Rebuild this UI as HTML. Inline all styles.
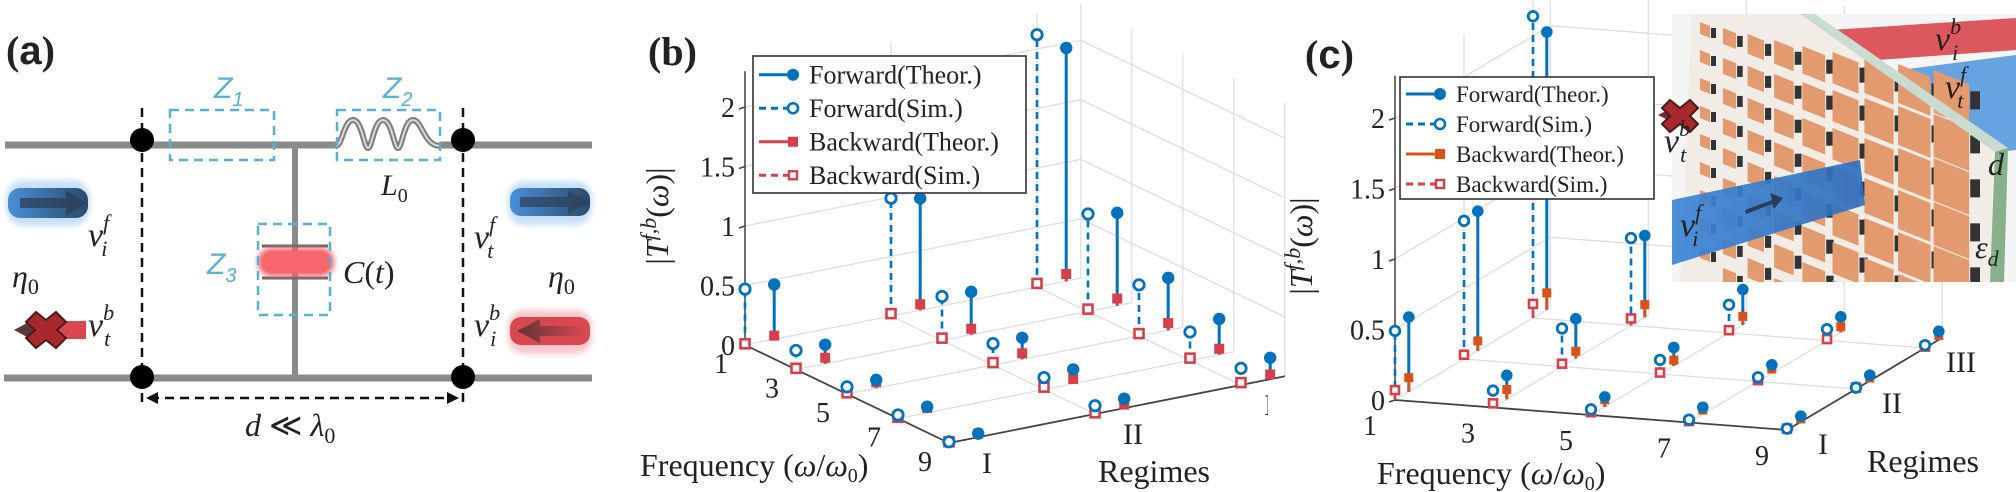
<!DOCTYPE html>
<html><head><meta charset="utf-8"><style>
html,body{margin:0;padding:0;background:#fff}
svg{display:block}
text{font-family:"Liberation Serif",serif;fill:#222}
.it{font-style:italic}
.zl{fill:#5ab0d0;font-style:italic;font-family:"Liberation Sans",sans-serif}
</style></head><body>
<svg id="fig" width="2016" height="492" viewBox="0 0 2016 492" xmlns="http://www.w3.org/2000/svg">
<defs>
<linearGradient id="ga" x1="0" x2="1"><stop offset="0" stop-color="#4a90d9"/><stop offset="1" stop-color="#2c4a6b"/></linearGradient>
<linearGradient id="gr" x1="1" x2="0"><stop offset="0" stop-color="#d9484f"/><stop offset="1" stop-color="#4a2f33"/></linearGradient>
<linearGradient id="gbeam" x1="0" x2="1"><stop offset="0" stop-color="#3d85d6"/><stop offset="1" stop-color="#2f6fc0"/></linearGradient>
<clipPath id="insetclip"><rect x="1672" y="14" width="344" height="268"/></clipPath>
<clipPath id="bclip"><rect x="0" y="0" width="1268" height="492"/></clipPath>
<filter id="blur"><feGaussianBlur stdDeviation="3"/></filter>
</defs>
<rect x="0" y="0" width="2016" height="492" fill="#fff"/>

<!-- ============ PANEL A ============ -->
<g>
<text x="6" y="64" font-size="40" font-weight="bold">(<tspan font-family="Liberation Sans,sans-serif">a</tspan>)</text>
<line x1="5" y1="145" x2="592" y2="145" stroke="#8a8a8a" stroke-width="7"/>
<line x1="4" y1="378" x2="592" y2="378" stroke="#8a8a8a" stroke-width="7"/>
<rect x="336" y="138" width="104" height="14" fill="#fff"/>
<path d="M336 146 C342 146 344 120 353 120 C362 120 364 148 368 148 C372 148 374 120 383 120 C392 120 394 148 398 148 C402 148 404 120 413 120 C422 120 424 146 440 146" fill="none" stroke="#7d7d7d" stroke-width="6"/>
<path d="M336 146 C342 146 344 120 353 120 C362 120 364 148 368 148 C372 148 374 120 383 120 C392 120 394 148 398 148 C402 148 404 120 413 120 C422 120 424 146 440 146" fill="none" stroke="#d8d8d8" stroke-width="2"/>
<line x1="295" y1="145" x2="295" y2="378" stroke="#8a8a8a" stroke-width="6"/>
<line x1="262" y1="246" x2="328" y2="246" stroke="#666" stroke-width="3"/>
<line x1="262" y1="278" x2="328" y2="278" stroke="#666" stroke-width="3"/>
<rect x="258" y="248" width="76" height="28" rx="13" fill="#f4636a" filter="url(#blur)"/>
<rect x="262" y="251" width="68" height="22" rx="11" fill="#f7666c"/>
<g fill="none" stroke="#5ab0d0" stroke-width="2.5" stroke-dasharray="9,6">
<rect x="170" y="110" width="104" height="50"/>
<rect x="337" y="110" width="103" height="50"/>
<rect x="258" y="224" width="72" height="91"/>
</g>
<g stroke="#111" stroke-width="2.5" stroke-dasharray="9,6">
<line x1="142" y1="108" x2="142" y2="408"/>
<line x1="463" y1="108" x2="463" y2="408"/>
<line x1="150" y1="398" x2="456" y2="398"/>
</g>
<path d="M146 398 l12 -6 v12 z M459 398 l-12 -6 v12 z" fill="#111"/>
<g fill="#000">
<circle cx="142" cy="140" r="12"/>
<circle cx="463" cy="140" r="12"/>
<circle cx="142" cy="377" r="12"/>
<circle cx="463" cy="377" r="12"/>
</g>
<text x="214" y="98" font-size="30" class="zl">Z<tspan font-size="20" dy="8" class="zl">1</tspan></text>
<text x="383" y="98" font-size="30" class="zl">Z<tspan font-size="20" dy="8" class="zl">2</tspan></text>
<text x="207" y="274" font-size="30" class="zl">Z<tspan font-size="20" dy="8" class="zl">3</tspan></text>
<text x="381" y="195" font-size="30" class="it">L<tspan font-size="20" dy="7" font-style="normal">0</tspan></text>
<text x="343" y="283" font-size="32" class="it">C<tspan font-style="normal">(</tspan>t<tspan font-style="normal">)</tspan></text>
<text x="245" y="436" font-size="32"><tspan class="it">d</tspan> ≪ <tspan class="it">λ</tspan><tspan font-size="22" dy="7">0</tspan></text>
<rect x="6" y="180" width="84" height="46" rx="18" fill="#8fc0f0" opacity="0.5" filter="url(#blur)"/>
<rect x="8" y="188" width="80" height="30" rx="12" fill="url(#ga)"/>
<path d="M20 198 H66 V190 L86 203 L66 216 V208 H20 Z" fill="#2c3e55" opacity="0.75"/>
<text x="88" y="246" font-size="34" class="it">v<tspan font-size="22" dy="-16">f</tspan><tspan font-size="22" dx="-8" dy="26">i</tspan></text>
<text x="12" y="287" font-size="32" class="it">η<tspan font-size="22" dy="7" font-style="normal">0</tspan></text>
<rect x="40" y="321" width="46" height="18" fill="#d9484f"/>
<path d="M14 330 L40 316 V344 Z" fill="#5a3a3c"/>
<path d="M36 312 L46 320 L56 312 L66 322 L57 330 L66 338 L56 348 L46 340 L36 348 L26 338 L35 330 L26 322 Z" fill="#a8282c" stroke="#4a1a1a" stroke-width="2"/>
<text x="88" y="336" font-size="34" class="it">v<tspan font-size="22" dy="-16">b</tspan><tspan font-size="22" dx="-10" dy="26">t</tspan></text>
<rect x="508" y="181" width="84" height="44" rx="16" fill="#8fc0f0" opacity="0.5" filter="url(#blur)"/>
<rect x="510" y="188" width="80" height="28" rx="11" fill="url(#ga)"/>
<path d="M520 197 H568 V190 L589 202 L568 214 V207 H520 Z" fill="#2c3e55" opacity="0.7"/>
<text x="474" y="248" font-size="34" class="it">v<tspan font-size="22" dy="-16">f</tspan><tspan font-size="22" dx="-8" dy="26">t</tspan></text>
<text x="548" y="287" font-size="32" class="it">η<tspan font-size="22" dy="7" font-style="normal">0</tspan></text>
<rect x="508" y="310" width="84" height="44" rx="16" fill="#f09097" opacity="0.5" filter="url(#blur)"/>
<rect x="510" y="317" width="80" height="28" rx="11" fill="#d9484f"/>
<path d="M586 326 H540 V319 L517 331 L540 343 V336 H586 Z" fill="url(#gr)" opacity="0.85"/>
<text x="474" y="336" font-size="34" class="it">v<tspan font-size="22" dy="-16">b</tspan><tspan font-size="22" dx="-10" dy="26">i</tspan></text>
</g>

<g id="panelB">
<text x="648" y="65" font-size="40" font-weight="bold">(b)</text>
</g>
<g id="panelC">
<text x="1305" y="68" font-size="40" font-weight="bold">(<tspan font-family="Liberation Sans,sans-serif">c</tspan>)</text>
</g>
<g id="inset" clip-path="url(#insetclip)"></g>
<g id="overlay"></g>
</svg>
<script>
const freqs = [1, 3, 5, 7, 9];
const regimes = ['I', 'II', 'III'];
const zTicks = [0, 0.5, 1, 1.5, 2];
const zTickLabels = ['0', '0.5', '1', '1.5', '2'];
const bFwdTheor = [[0.46,0.16,0.07,0.05,0.03],[0.94,0.36,0.18,0.12,0.08],[1.96,0.78,0.44,0.30,0.18]];
const bFwdSim   = [[0.47,0.16,0.06,0.03,0.01],[0.99,0.37,0.18,0.10,0.07],[2.12,0.82,0.43,0.24,0.14]];
const bBwdTheor = [[0.03,0.05,0.05,0.04,0.03],[0.05,0.05,0.05,0.04,0.03],[0.06,0.06,0.06,0.05,0.04]];
const bBwdSim   = [[0.01,0.01,0.01,0.01,0.01],[0.02,0.02,0.02,0.02,0.01],[0.03,0.02,0.02,0.02,0.02]];
const cFwdTheor = [[0.53,0.17,0.07,0.05,0.04],[0.99,0.28,0.13,0.06,0.04],[1.97,0.58,0.25,0.11,0.06]];
const cFwdSim   = [[0.49,0.12,0.04,0.02,0.01],[0.98,0.27,0.10,0.03,0.01],[2.14,0.62,0.20,0.08,0.02]];
const cBwdTheor = [[0.10,0.07,0.05,0.03,0.02],[0.07,0.05,0.04,0.03,0.02],[0.12,0.09,0.06,0.04,0.03]];
const cBwdSim   = [[0.07,0.03,0.02,0.01,0.01],[0.03,0.02,0.01,0.01,0.01],[0.10,0.05,0.02,0.01,0.01]];

const NS = 'http://www.w3.org/2000/svg';
const BLUE = '#0072bd', RED = '#d6404a', ORANGE = '#d95319';
function mk(tag, attrs, parent) {
  const e = document.createElementNS(NS, tag);
  for (const k in attrs) e.setAttribute(k, attrs[k]);
  parent.appendChild(e);
  return e;
}
function makeProj(ox, oy, fx, fy, rx, ry, zs) {
  return function (f, r, z) {
    const a = (f - 1) / 2;
    return [ox + a * fx + r * rx, oy + a * fy + r * ry - z * zs];
  };
}
function seg(g, p, q, stroke, w, dash) {
  const l = mk('line', {x1: p[0], y1: p[1], x2: q[0], y2: q[1], stroke: stroke, 'stroke-width': w}, g);
  if (dash) l.setAttribute('stroke-dasharray', dash);
  return l;
}
function drawPanel(g, P, cfg, fwdT, fwdS, bwdT, bwdS) {
  const rmax = cfg.rmax, zmax = 2.3, fmax = 9;
  const grid = mk('g', {}, g);
  
  
  const gc = '#dcdcdc';
  freqs.forEach(f => { seg(grid, P(f, 0, 0), P(f, rmax, 0), gc, 1.2); seg(grid, P(f, rmax, 0), P(f, rmax, zmax), gc, 1.2); });
  regimes.forEach((r, i) => { seg(grid, P(1, i, 0), P(fmax, i, 0), gc, 1.2); seg(grid, P(1, i, 0), P(1, i, zmax), gc, 1.2); });
  zTicks.forEach(z => { if (z > 0) { seg(grid, P(1, 0, z), P(1, rmax, z), gc, 1.2); seg(grid, P(1, rmax, z), P(fmax, rmax, z), gc, 1.2); } });
  const ax = mk('g', {}, g);
  
  
  seg(ax, P(1, 0, 0), P(1, 0, zmax), '#444', 1.5);
  seg(ax, P(1, 0, 0), P(fmax, 0, 0), '#444', 1.8);
  seg(ax, P(fmax, 0, 0), P(fmax, rmax, 0), '#444', 1.8);
  zTicks.forEach((z, i) => {
    const p = P(1, 0, z);
    seg(ax, p, [p[0] - 6, p[1] + 2], '#444', 1.5);
    const t = mk('text', {x: p[0] - 10, y: p[1] + 10, 'font-size': 28, 'text-anchor': 'end'}, ax);
    t.textContent = zTickLabels[i];
    
    
  });
  freqs.forEach(f => {
    const p = P(f, 0, 0);
    const t = mk('text', {x: p[0] + cfg.flx, y: p[1] + cfg.fly, 'font-size': 28, 'text-anchor': 'middle'}, ax);
    t.textContent = String(f);
    
    
  });
  const rg = mk('g', {}, ax);
  if (cfg.clip) rg.setAttribute('clip-path', cfg.clip);
  regimes.forEach((r, i) => {
    const p = P(fmax, i, 0);
    const t = mk('text', {x: p[0] + cfg.rlx, y: p[1] + cfg.rly, 'font-size': 30, 'text-anchor': 'middle'}, rg);
    t.textContent = r;
    
    
  });
  const marks = mk('g', {}, g);
  
  
  const rs = cfg.rs;
  for (let ri = regimes.length - 1; ri >= 0; ri--) {
    freqs.forEach((f, fi) => {
      const rS = ri, rT = ri + cfg.dr;
      const s0 = P(f, rS, 0), s1 = P(f, rS, fwdS[ri][fi]);
      const ls = seg(marks, s0, s1, BLUE, 2.6, '7,5');
      
      
      const t0 = P(f, rT, 0), t1 = P(f, rT, fwdT[ri][fi]);
      const lt = seg(marks, t0, t1, BLUE, 3);
      
      
      const bs = P(f, rS, bwdS[ri][fi]);
      seg(marks, s0, bs, RED, 2.4);
      const sq1 = mk('rect', {x: bs[0] - rs / 2, y: bs[1] - rs / 2, width: rs, height: rs, fill: '#fff', stroke: RED, 'stroke-width': 2.6}, marks);
      
      
      const bt = P(f, rT, bwdT[ri][fi]);
      seg(marks, t0, bt, cfg.bcol, 2.8);
      const sq2 = mk('rect', {x: bt[0] - rs / 2 - 0.5, y: bt[1] - rs / 2 - 0.5, width: rs + 1, height: rs + 1, fill: cfg.bcol}, marks);
      
      
      const c1 = mk('circle', {cx: s1[0], cy: s1[1], r: cfg.cr - 1, fill: '#fff', stroke: BLUE, 'stroke-width': 2.8}, marks);
      
      
      const c2 = mk('circle', {cx: t1[0], cy: t1[1], r: cfg.cr, fill: BLUE}, marks);
      
      
    });
  }
}
function axisTitles(g, ytx, yty, fx, fy, rgx, rgy) {
  const yt = mk('text', {x: 0, y: 0, 'font-size': 32, 'text-anchor': 'middle', transform: `translate(${ytx},${yty}) rotate(-90)`}, g);
  
  
  yt.innerHTML = '|<tspan font-style="italic">T</tspan><tspan font-size="22" dy="-12" font-style="italic">f,b</tspan><tspan dy="12">(</tspan><tspan font-style="italic">ω</tspan>)|';
  const xt = mk('text', {x: fx, y: fy, 'font-size': 32}, g);
  
  
  xt.innerHTML = 'Frequency (<tspan font-style="italic">ω</tspan>/<tspan font-style="italic">ω</tspan><tspan font-size="20" dy="6">0</tspan><tspan dy="-6">)</tspan>';
  const rt = mk('text', {x: rgx, y: rgy, 'font-size': 32}, g);
  
  
  rt.textContent = 'Regimes';
}
function legend(g, x, y, w, h, rowH, fs, bcol) {
  const lg = mk('g', {}, g);
  
  
  mk('rect', {x: x, y: y, width: w, height: h, fill: '#fff', stroke: '#333', 'stroke-width': 1.6}, lg);
  const items = [['Forward(Theor.)', BLUE, null, 'fc'], ['Forward(Sim.)', BLUE, '7,5', 'oc'], ['Backward(Theor.)', bcol, null, 'fs'], ['Backward(Sim.)', RED, '7,5', 'os']];
  items.forEach((it, i) => {
    const cy = y + rowH * (i + 0.5) + 2;
    const e = mk('g', {}, lg);
    
    
    seg(e, [x + 6, cy], [x + 40, cy], it[1], 3, it[2]);
    if (it[3] === 'fc') mk('circle', {cx: x + 40, cy: cy, r: 6, fill: BLUE}, e);
    if (it[3] === 'oc') mk('circle', {cx: x + 40, cy: cy, r: 5, fill: '#fff', stroke: BLUE, 'stroke-width': 2.6}, e);
    if (it[3] === 'fs') mk('rect', {x: x + 35, y: cy - 5, width: 10, height: 10, fill: bcol}, e);
    if (it[3] === 'os') mk('rect', {x: x + 36, y: cy - 4, width: 8, height: 8, fill: '#fff', stroke: RED, 'stroke-width': 2.4}, e);
    const t = mk('text', {x: x + 56, y: cy + fs * 0.34, 'font-size': fs}, e);
    t.textContent = it[0];
  });
}
const gB = document.getElementById('panelB');
const PB = makeProj(745, 345, 51, 24.5, 146, -29, 119);
drawPanel(gB, PB, {rmax: 2.3, dr: 0.2, rs: 9, cr: 6.2, bcol: RED, flx: -24, fly: 28, rlx: 38, rly: 30, clip: 'url(#bclip)'}, bFwdTheor, bFwdSim, bBwdTheor, bBwdSim);
axisTitles(gB, 668, 216, 640, 476, 1098, 482);
legend(gB, 753, 56, 273, 137, 33.5, 26, RED);
const gC = document.getElementById('panelC');
const PC = makeProj(1395, 400, 98, 7.5, 69, -41, 141);
drawPanel(gC, PC, {rmax: 2.25, dr: 0.2, rs: 8, cr: 5.8, bcol: ORANGE, flx: -25, fly: 35, rlx: 36, rly: 24}, cFwdTheor, cFwdSim, cBwdTheor, cBwdSim);
axisTitles(gC, 1312, 246, 1377, 484, 1867, 472);
legend(gC, 1400, 77, 254, 122, 30, 23, ORANGE);

const ins = document.getElementById('inset');
mk('rect', {x: 1672, y: 14, width: 344, height: 268, fill: '#f4f6f6'}, ins);
mk('polygon', {points: '1830,30 2016,18 2016,50 1850,62', fill: '#d9474e', opacity: 0.9}, ins);
mk('polygon', {points: '1900,70 2016,55 2016,150 1930,160', fill: '#4d93dd', opacity: 0.85}, ins);
mk('polygon', {points: '1692,14 1800,14 1995,150 1990,282 1680,282', fill: '#f1ede6'}, ins);
for (let i = 0; i < 9; i++) {
  for (let j = 0; j < 9; j++) {
    const s = 10 + i * 3.2;
    const x = 1700 + i * 22 + i * i * 0.9;
    const y = 22 + j * (28 + i * 2) + i * 6;
    if (y > 285) continue;
    mk('polygon', {points: `${x},${y} ${x + s},${y + s * 0.4} ${x + s},${y + s * 1.6} ${x},${y + s * 1.2}`, fill: '#e39a6e'}, ins);
    mk('rect', {x: x + s + 1, y: y + s * 0.6, width: 5 + i * 0.6, height: 10 + i, fill: '#333'}, ins);
  }
}
mk('polygon', {points: '1800,14 1815,14 2008,148 1995,152', fill: '#c9dccf'}, ins);
mk('polygon', {points: '1995,152 2008,148 2004,282 1990,282', fill: '#88b08a'}, ins);
mk('polygon', {points: '1672,200 1860,160 1865,205 1672,265', fill: 'url(#gbeam)', opacity: 0.92}, ins);
mk('path', {d: 'M1745 210 L1772 200 L1770 193 L1783 198 L1774 209 L1772 204 L1746 214 Z', fill: '#2b3d55'}, ins);
const lab = [['1935', '50', 'b', 'i', 'vib-inset-label'], ['1945', '98', 'f', 't', 'vtf-inset-label'], ['1680', '236', 'f', 'i', 'vif-inset-label']];
lab.forEach(l => {
  const t = mk('text', {x: l[0], y: l[1], 'font-size': 34, 'font-style': 'italic'}, ins);
  
  
  t.innerHTML = 'v<tspan font-size="22" dy="-16">' + l[2] + '</tspan><tspan font-size="22" dx="-9" dy="26">' + l[3] + '</tspan>';
});
const tdd = mk('text', {x: 1988, y: 175, 'font-size': 32, 'font-style': 'italic'}, ins);


tdd.textContent = 'd';
const ted = mk('text', {x: 1975, y: 258, 'font-size': 32, 'font-style': 'italic'}, ins);


ted.innerHTML = 'ε<tspan font-size="22" dy="8">d</tspan>';
const ov = document.getElementById('overlay');
mk('path', {d: 'M1658 115 L1672 108 L1690 106 L1690 122 L1672 122 Z', fill: '#7a2a2e'}, ov);
const x2 = mk('path', {d: 'M1670 100 L1680 108 L1690 100 L1698 108 L1690 116 L1698 124 L1690 132 L1680 124 L1670 132 L1662 124 L1670 116 L1662 108 Z', fill: '#a8282c', stroke: '#4a1a1a', 'stroke-width': 2}, ov);


const vtb = mk('text', {x: 1664, y: 152, 'font-size': 34, 'font-style': 'italic'}, ov);


vtb.innerHTML = 'v<tspan font-size="22" dy="-16">b</tspan><tspan font-size="22" dx="-10" dy="26">t</tspan>';
</script>
</body></html>
